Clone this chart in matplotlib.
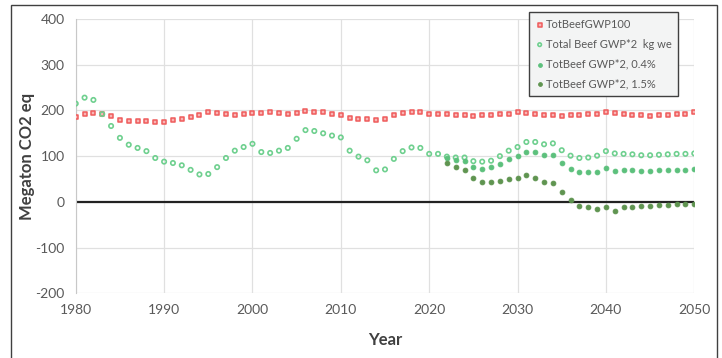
import numpy as np
import matplotlib
matplotlib.use('Agg')
import matplotlib.pyplot as plt
from matplotlib.patches import Rectangle

plt.rcParams['font.family'] = ['Lato', 'DejaVu Sans']
plt.rcParams['axes.unicode_minus'] = False

years_all = list(range(1980, 2051))
years_proj = list(range(2022, 2051))

# TotBeefGWP100
gwp100 = [186, 193, 195, 192, 188, 180, 177, 177, 177, 174,
          174, 179, 182, 185, 190, 196, 195, 193, 190, 192,
          194, 194, 196, 194, 193, 195, 199, 197, 196, 192,
          190, 184, 182, 182, 179, 182, 190, 195, 196, 196,
          193, 193, 193, 190, 189, 188, 189, 190, 192, 193,
          196, 194, 193, 190, 189, 188, 189, 190, 192, 193,
          196, 194, 192, 190, 189, 188, 189, 190, 193, 193,
          196]

# Total Beef GWP*2 kg we
gwp_star = [215, 228, 223, 192, 166, 140, 125, 118, 111, 96,
            88, 85, 80, 70, 60, 61, 76, 96, 112, 120,
            127, 109, 107, 112, 118, 138, 157, 155, 150, 145,
            141, 112, 99, 91, 69, 71, 94, 111, 119, 118,
            105, 105, 99, 97, 97, 89, 88, 90, 100, 112,
            120, 131, 131, 126, 128, 113, 101, 96, 97, 101,
            111, 106, 105, 104, 102, 102, 103, 104, 105, 105,
            106]

# TotBeef GWP*2, 0.4%
gwp_04 = [96, 91, 89, 77, 73, 76, 83, 93, 101, 110,
          109, 102, 102, 86, 72, 65, 65, 66, 75, 68,
          69, 69, 68, 68, 69, 69, 69, 70, 71]

# TotBeef GWP*2, 1.5%
gwp_15 = [84, 77, 69, 53, 44, 44, 45, 50, 52, 58,
          53, 43, 41, 21, 4, -9, -12, -16, -11, -20,
          -12, -11, -10, -8, -7, -6, -5, -5, -4]

fig = plt.figure(figsize=(7.22, 3.58), dpi=100)
ax = fig.add_axes([0.1049, 0.1807, 0.8567, 0.7662])

# outer frame of the chart area
fig.patches.append(Rectangle((11 / 722, -0.1), (717 - 11) / 722, 1 - 5 / 358 + 0.1,
                             transform=fig.transFigure, fill=False,
                             edgecolor='#404040', linewidth=1.0))

ax.scatter(years_all, gwp100, marker='s', s=12, facecolor='#f8b4b4',
           edgecolor='#ef5b5b', linewidth=1.1, label='TotBeefGWP100', zorder=3)
ax.scatter(years_all, gwp_star, marker='o', s=10, facecolor='none',
           edgecolor='#6fd08f', linewidth=1.2, label='Total Beef GWP*2  kg we', zorder=3)
ax.scatter(years_proj, gwp_04, marker='o', s=12, facecolor='#5cc07c',
           edgecolor='#5cc07c', linewidth=0.6, label='TotBeef GWP*2, 0.4%', zorder=4)
ax.scatter(years_proj, gwp_15, marker='o', s=12, facecolor='#5f9450',
           edgecolor='#5f9450', linewidth=0.6, label='TotBeef GWP*2, 1.5%', zorder=4)

ax.axhline(0, color='#222222', linewidth=1.6, zorder=2)

ax.set_xlim(1980, 2050)
ax.set_ylim(-200, 400)
ax.set_xticks(range(1980, 2051, 10))
ax.set_yticks(range(-200, 401, 100))
ax.grid(True, color='#e0e0e0', linewidth=0.9)
ax.set_axisbelow(True)
for side in ['top', 'right', 'bottom']:
    ax.spines[side].set_visible(False)
ax.spines['left'].set_color('#c8c8c8')
ax.tick_params(length=0, labelsize=10, colors='#595959', pad=8)

ax.set_xlabel('Year', fontsize=12, fontweight='bold', color='#404040')
ax.xaxis.set_label_coords(0.5, -0.14)
ax.set_ylabel('Megaton CO2 eq', fontsize=12, fontweight='bold', color='#404040')
ax.yaxis.set_label_coords(-0.066, 0.5)

leg = ax.legend(loc='upper right', bbox_to_anchor=(0.974, 1.0255), fontsize=8,
                frameon=True, fancybox=False, handletextpad=0.15,
                handlelength=0.8, labelspacing=0.8, borderpad=0.6,
                borderaxespad=0, markerscale=0.8, labelcolor='#595959')
leg.get_frame().set_facecolor('#f3f4f4')
leg.get_frame().set_edgecolor('#404040')
leg.get_frame().set_alpha(1)
leg.get_frame().set_linewidth(1.0)

fig.savefig('out.png', dpi=100)
